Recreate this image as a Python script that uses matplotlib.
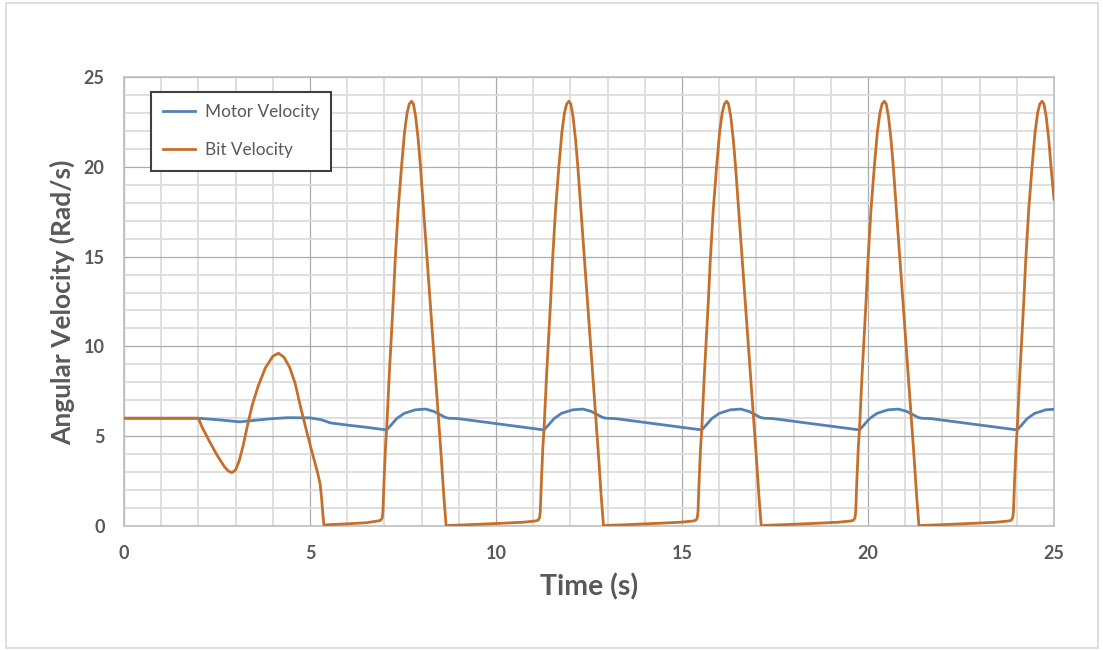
import matplotlib
matplotlib.use("Agg")
import matplotlib.pyplot as plt
from matplotlib.ticker import MultipleLocator
from matplotlib.patches import Rectangle

# ---------------- data ----------------
motor_t = [0.0, 2.0, 2.5, 3.1, 3.5, 4.0, 4.4, 5.0, 5.3, 5.55, 6.0, 6.5,
           7.06, 7.18, 7.33, 7.53, 7.83, 8.11, 8.33, 8.48, 8.63, 8.73, 8.98,
           11.29, 11.41, 11.56, 11.76, 12.06, 12.34, 12.56, 12.71, 12.86, 12.96, 13.21,
           15.53, 15.65, 15.80, 16.00, 16.30, 16.58, 16.80, 16.95, 17.10, 17.20, 17.45,
           19.77, 19.89, 20.04, 20.24, 20.54, 20.82, 21.04, 21.19, 21.34, 21.44, 21.69,
           24.01, 24.13, 24.28, 24.48, 24.78, 25.0]
motor_v = [6.0, 6.0, 5.92, 5.80, 5.88, 5.98, 6.03, 6.02, 5.92, 5.74, 5.62, 5.50,
           5.35, 5.62, 5.98, 6.27, 6.47, 6.51, 6.38, 6.22, 6.05, 6.00, 5.98,
           5.35, 5.62, 5.98, 6.27, 6.47, 6.51, 6.38, 6.22, 6.05, 6.00, 5.98,
           5.35, 5.62, 5.98, 6.27, 6.47, 6.51, 6.38, 6.22, 6.05, 6.00, 5.98,
           5.35, 5.62, 5.98, 6.27, 6.47, 6.51, 6.38, 6.22, 6.05, 6.00, 5.98,
           5.35, 5.62, 5.98, 6.27, 6.47, 6.50]

bit_t = [0.0, 2.0, 2.1, 2.3, 2.5, 2.7, 2.8, 2.9, 3.0, 3.1, 3.2, 3.33, 3.45, 3.6, 3.8,
         4.0, 4.15, 4.3, 4.45, 4.6, 4.75, 4.9, 5.05, 5.2, 5.27, 5.31, 5.34, 5.37, 5.38,
         5.45, 6.0, 6.5,
         # cycle 1
         6.83, 6.90, 6.94, 6.96, 6.99, 7.03, 7.06, 7.13, 7.17, 7.24, 7.29, 7.37, 7.46,
         7.54, 7.61, 7.67, 7.73, 7.78, 7.84, 7.91, 7.97, 8.06, 8.15, 8.25, 8.33, 8.43,
         8.53, 8.60, 8.64, 8.66, 8.73, 9.23, 10.13, 10.73,
         # cycle 2
         11.06, 11.13, 11.17, 11.19, 11.22, 11.26, 11.29, 11.36, 11.40, 11.47, 11.52,
         11.60, 11.69, 11.77, 11.84, 11.90, 11.96, 12.01, 12.07, 12.14, 12.20, 12.29,
         12.38, 12.48, 12.56, 12.66, 12.76, 12.83, 12.87, 12.89, 12.96, 13.46, 14.36, 14.96,
         # cycle 3
         15.30, 15.37, 15.41, 15.43, 15.46, 15.50, 15.53, 15.60, 15.64, 15.71, 15.76,
         15.84, 15.93, 16.01, 16.08, 16.14, 16.20, 16.25, 16.31, 16.38, 16.44, 16.53,
         16.62, 16.72, 16.80, 16.90, 17.00, 17.07, 17.11, 17.13, 17.20, 17.70, 18.60, 19.20,
         # cycle 4
         19.54, 19.61, 19.65, 19.67, 19.70, 19.74, 19.77, 19.84, 19.88, 19.95, 20.00,
         20.08, 20.17, 20.25, 20.32, 20.38, 20.44, 20.49, 20.55, 20.62, 20.68, 20.77,
         20.86, 20.96, 21.04, 21.14, 21.24, 21.31, 21.35, 21.37, 21.44, 21.94, 22.84, 23.44,
         # cycle 5
         23.78, 23.85, 23.89, 23.91, 23.94, 23.98, 24.01, 24.08, 24.12, 24.19, 24.24,
         24.32, 24.41, 24.49, 24.56, 24.62, 24.68, 24.73, 24.79, 24.86, 24.92, 25.0]
bit_v = [6.0, 6.0, 5.5, 4.7, 3.95, 3.3, 3.07, 2.97, 3.12, 3.65, 4.45, 5.7, 6.75, 7.75, 8.8,
         9.45, 9.62, 9.4, 8.85, 7.95, 6.6, 5.35, 4.15, 3.0, 2.37, 1.6, 0.8, 0.15, 0.0,
         0.07, 0.12, 0.18,
         # cycle 1
         0.28, 0.32, 0.45, 0.8, 2.5, 4.4, 5.35, 8.4, 9.9, 12.6, 14.8, 17.6, 20.0,
         21.9, 23.0, 23.5, 23.65, 23.5, 22.8, 21.5, 20.0, 17.4, 14.8, 11.9, 9.6, 6.7,
         3.8, 1.6, 0.5, 0.0, 0.03, 0.07, 0.15, 0.21,
         # cycle 2
         0.28, 0.32, 0.45, 0.8, 2.5, 4.4, 5.35, 8.4, 9.9, 12.6, 14.8,
         17.6, 20.0, 21.9, 23.0, 23.5, 23.65, 23.5, 22.8, 21.5, 20.0, 17.4,
         14.8, 11.9, 9.6, 6.7, 3.8, 1.6, 0.5, 0.0, 0.03, 0.07, 0.15, 0.21,
         # cycle 3
         0.28, 0.32, 0.45, 0.8, 2.5, 4.4, 5.35, 8.4, 9.9, 12.6, 14.8,
         17.6, 20.0, 21.9, 23.0, 23.5, 23.65, 23.5, 22.8, 21.5, 20.0, 17.4,
         14.8, 11.9, 9.6, 6.7, 3.8, 1.6, 0.5, 0.0, 0.03, 0.07, 0.15, 0.21,
         # cycle 4
         0.28, 0.32, 0.45, 0.8, 2.5, 4.4, 5.35, 8.4, 9.9, 12.6, 14.8,
         17.6, 20.0, 21.9, 23.0, 23.5, 23.65, 23.5, 22.8, 21.5, 20.0, 17.4,
         14.8, 11.9, 9.6, 6.7, 3.8, 1.6, 0.5, 0.0, 0.03, 0.07, 0.15, 0.21,
         # cycle 5
         0.28, 0.32, 0.45, 0.8, 2.5, 4.4, 5.35, 8.4, 9.9, 12.6, 14.8,
         17.6, 20.0, 21.9, 23.0, 23.5, 23.65, 23.5, 22.8, 21.5, 20.0, 18.2]

x_ticks = [0, 5, 10, 15, 20, 25]
y_ticks = [0, 5, 10, 15, 20, 25]
series_labels = ["Motor Velocity", "Bit Velocity"]
x_label = "Time (s)"
y_label = "Angular Velocity (Rad/s)"

# ---------------- styling ----------------
plt.rcParams['font.family'] = ['Lato', 'DejaVu Sans']
TEXT = '#595959'
BLUE = '#5482B4'
ORANGE = '#C46F2A'

W, H = 1103, 650
fig = plt.figure(figsize=(W / 100, H / 100), dpi=100)
fig.patch.set_facecolor('white')

# outer chart frame
fig.patches.append(Rectangle((6 / W, 2 / H), (1098 - 6) / W, (647 - 2) / H,
                             transform=fig.transFigure, fill=False,
                             edgecolor='#D9D9D9', linewidth=1.2))

ax = fig.add_axes([124 / W, 1 - 526 / H, (1054 - 124) / W, (526 - 77) / H])

ax.plot(motor_t, motor_v, color=BLUE, lw=2.0, label=series_labels[0],
        solid_joinstyle='round', zorder=3)
ax.plot(bit_t, bit_v, color=ORANGE, lw=2.0, label=series_labels[1],
        solid_joinstyle='round', zorder=4)

ax.set_xlim(0, 25)
ax.set_ylim(0, 25)
ax.set_xticks(x_ticks)
ax.set_yticks(y_ticks)
ax.xaxis.set_minor_locator(MultipleLocator(1))
ax.yaxis.set_minor_locator(MultipleLocator(1))
ax.grid(which='minor', color='#DCDCDC', lw=1.3, zorder=0)
ax.grid(which='major', color='#ABABAB', lw=0.9, zorder=1)
ax.set_axisbelow(True)

for s in ax.spines.values():
    s.set_color('#BFBFBF')
    s.set_linewidth(1.2)

ax.tick_params(which='both', length=0)
ax.tick_params(axis='x', pad=14)
ax.tick_params(axis='y', pad=14)
for lab in ax.get_xticklabels() + ax.get_yticklabels():
    lab.set_fontsize(13)
    lab.set_fontweight('bold')
    lab.set_color(TEXT)

fig.text(589 / W, 1 - 587 / H, x_label, fontsize=20.5, fontweight='bold',
         color=TEXT, ha='center', va='center')
fig.text(62 / W, 1 - 302 / H, y_label, fontsize=19, fontweight='bold',
         color=TEXT, ha='center', va='center', rotation=90)

leg = ax.legend(loc='upper left', bbox_to_anchor=(0.0285, 0.9673),
                borderaxespad=0, fontsize=12.4, frameon=True, fancybox=False,
                framealpha=1, edgecolor='#404040', borderpad=0.7,
                labelspacing=1.32, handlelength=1.9, handletextpad=0.55)
leg.get_frame().set_linewidth(1.5)
for t in leg.get_texts():
    t.set_color(TEXT)

fig.savefig('out.png', dpi=100, facecolor='white')
